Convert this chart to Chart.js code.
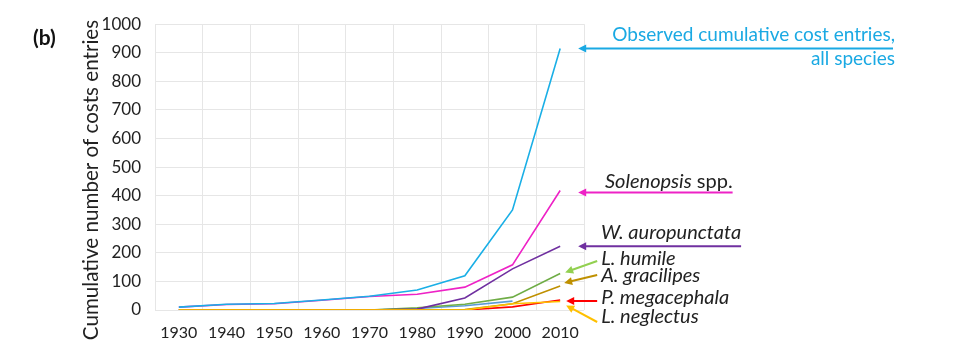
<!DOCTYPE html>
<html>
<head>
<meta charset="utf-8">
<script src="https://cdn.jsdelivr.net/npm/chart.js@4.4.1/dist/chart.umd.min.js"></script>
<style>
  html, body { margin: 0; padding: 0; background: #fff; }
  #wrap { width: 955px; height: 363px; position: relative; }
</style>
</head>
<body>
<div id="wrap"><canvas id="myChart" width="955" height="363"></canvas></div>
<script>
// data
var years = ['1930', '1940', '1950', '1960', '1970', '1980', '1990', '2000', '2010'];
var allSpecies    = [10, 20, 23, 35, 48, 70, 120, 350, 915];
var solenopsis    = [10, 19, 22, 34, 47, 55, 80, 158, 418];
var wAuropunctata = [0, 0, 0, 0, 0, 3, 42, 144, 223];
var lHumile       = [0, 0, 0, 0, 0, 8, 20, 45, 128];
var aGracilipes   = [0, 0, 0, 0, 0, 0, 2, 22, 84];
var pMegacephala  = [0, 0, 0, 0, 0, 0, 0, 11, 35];
var lNeglectus    = [0, 0, 0, 0, 0, 0, 0, 22, 30];
var otherSpecies  = [0, 0, 0, 0, 0, 5, 15, 31, null];
var yTicks = [0, 100, 200, 300, 400, 500, 600, 700, 800, 900, 1000];

var FONT = 'Lato, "Open Sans", sans-serif';
var TXT = '#222222';

function line(label, data, color, order) {
  return {
    label: label, data: data, borderColor: color, backgroundColor: color,
    borderWidth: 1.6, pointRadius: 0, tension: 0, fill: false, order: order,
    spanGaps: false
  };
}

function arrow(ctx, x1, y1, x2, y2, color) {
  // x1,y1 tail ; x2,y2 tip
  var ang = Math.atan2(y2 - y1, x2 - x1);
  var hl = 8, hw = 4;
  ctx.save();
  ctx.strokeStyle = color;
  ctx.fillStyle = color;
  ctx.lineWidth = 2;
  ctx.beginPath();
  ctx.moveTo(x1, y1);
  ctx.lineTo(x2 - Math.cos(ang) * (hl - 1), y2 - Math.sin(ang) * (hl - 1));
  ctx.stroke();
  ctx.beginPath();
  ctx.moveTo(x2, y2);
  ctx.lineTo(x2 - Math.cos(ang) * hl - Math.sin(ang) * hw, y2 - Math.sin(ang) * hl + Math.cos(ang) * hw);
  ctx.lineTo(x2 - Math.cos(ang) * hl + Math.sin(ang) * hw, y2 - Math.sin(ang) * hl - Math.cos(ang) * hw);
  ctx.closePath();
  ctx.fill();
  ctx.restore();
}

function label(ctx, parts, x, y, size) {
  // parts: [[text, italic], ...]
  ctx.save();
  ctx.fillStyle = TXT;
  ctx.textBaseline = 'alphabetic';
  ctx.textAlign = 'left';
  var cx = x;
  parts.forEach(function(p) {
    ctx.font = (p[1] ? 'italic ' : '') + size + 'px ' + FONT;
    ctx.fillText(p[0], cx, y);
    cx += ctx.measureText(p[0]).width;
  });
  ctx.restore();
  return cx;
}

var annotate = {
  id: 'annotate',
  afterDraw: function(chart) {
    var ctx = chart.ctx;
    var xs = chart.scales.x, ys = chart.scales.y;
    var last = years.length - 1;
    var px = xs.getPixelForValue(last);
    var area = chart.chartArea;

    // panel letter
    ctx.save();
    ctx.fillStyle = '#111';
    ctx.font = 'bold 21px ' + FONT;
    ctx.textBaseline = 'alphabetic';
    ctx.fillText('(b)', 33, 45);

    // y axis title
    ctx.translate(91, 180);
    ctx.rotate(-Math.PI / 2);
    ctx.textAlign = 'center';
    ctx.textBaseline = 'middle';
    ctx.fillStyle = TXT;
    ctx.font = '20.6px ' + FONT;
    ctx.fillText('Cumulative number of costs entries', 0, 0);
    ctx.restore();

    // all species
    var yAll = ys.getPixelForValue(allSpecies[last]);
    arrow(ctx, 893, yAll, px + 18, yAll, '#1AA9E3');
    ctx.save();
    ctx.fillStyle = '#1AA9E3';
    ctx.font = '19px ' + FONT;
    ctx.textAlign = 'right';
    ctx.fillText('Observed cumulative cost entries,', 895, yAll - 7);
    ctx.fillText('all species', 895, yAll + 17);
    ctx.restore();

    // Solenopsis
    var ySol = ys.getPixelForValue(solenopsis[last]) + 2;
    var endSol = label(ctx, [['Solenopsis', true], [' spp.', false]], 605, ySol - 5, 20);
    arrow(ctx, endSol, ySol, px + 18, ySol, '#EE22C6');

    // W. auropunctata
    var yW = ys.getPixelForValue(wAuropunctata[last]);
    var endW = label(ctx, [['W. auropunctata', true]], 601, yW - 7, 20);
    arrow(ctx, endW, yW, px + 18, yW, '#7030A0');

    // lower group
    var b = area.bottom;
    label(ctx, [['L. humile', true]], px + 41, b - 45, 20);
    arrow(ctx, px + 37, b - 49, px + 5, ys.getPixelForValue(lHumile[last]) - 1, '#92D050');
    label(ctx, [['A. gracilipes', true]], px + 41, b - 28, 20);
    arrow(ctx, px + 37, b - 35, px + 4, ys.getPixelForValue(aGracilipes[last]) - 3, '#BF9000');
    label(ctx, [['P. megacephala', true]], px + 41, b - 6, 20);
    arrow(ctx, px + 37, b - 9, px + 6, b - 9, '#FF0000');
    label(ctx, [['L. neglectus', true]], px + 41, b + 13, 20);
    arrow(ctx, px + 37, b + 12, px + 6, ys.getPixelForValue(lNeglectus[last]) + 4, '#FFC000');
  }
};

var ctx = document.getElementById('myChart').getContext('2d');
var myChart = new Chart(ctx, {
  type: 'line',
  data: {
    labels: years,
    datasets: [
      line('All species', allSpecies, '#1AAFE6', 0),
      line('L. neglectus', lNeglectus, '#FFC000', 1),
      line('A. gracilipes', aGracilipes, '#BF9000', 2),
      line('P. megacephala', pMegacephala, '#FF0000', 3),
      line('Solenopsis spp.', solenopsis, '#EE22C6', 4),
      line('W. auropunctata', wAuropunctata, '#7030A0', 5),
      line('L. humile', lHumile, '#70AD47', 6),
      line('Other', otherSpecies, '#5B9BD5', 7)
    ]
  },
  options: {
    responsive: false,
    animation: false,
    layout: { padding: { left: 0, right: 371, top: 22, bottom: 0 } },
    plugins: { legend: { display: false }, tooltip: { enabled: false } },
    scales: {
      x: {
        offset: true,
        grid: { offset: true, color: '#E6E6E6', drawTicks: false },
        border: { display: false },
        ticks: { padding: 13, color: TXT, font: { family: FONT, size: 16 }, maxRotation: 0 },
        afterFit: function(s) { s.height = 53; }
      },
      y: {
        min: 0, max: 1000,
        afterBuildTicks: function(s) { s.ticks = yTicks.map(function(v) { return { value: v }; }); },
        grid: { color: '#E6E6E6', drawTicks: false },
        border: { display: false },
        ticks: {
          padding: 14, color: TXT, font: { family: FONT, size: 17 },
          callback: function(v) { return String(v); }
        },
        afterFit: function(s) { s.width = 155; }
      }
    }
  },
  plugins: [annotate]
});
</script>
</body>
</html>
